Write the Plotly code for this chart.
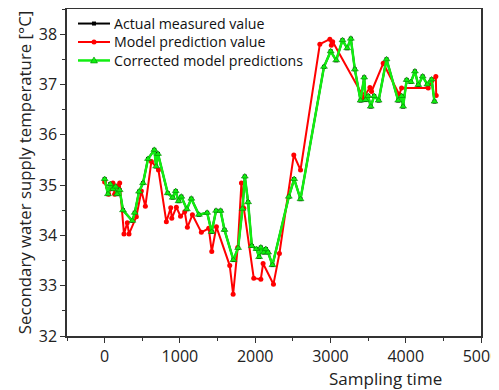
import plotly.graph_objects as go

# Corrected model predictions (overlaps actual measured values)
t_corr = [0, 44, 75, 110, 146, 164, 200, 244, 368, 400, 457, 510, 576, 660, 684, 709,
          838, 904, 944, 982, 1019, 1092, 1152, 1252, 1362, 1422, 1480, 1540, 1592, 1711,
          1773, 1831, 1862, 1906, 1955, 2017, 2052, 2075, 2114, 2141, 2172, 2230, 2447,
          2518, 2602, 2914, 3003, 3076, 3160, 3222, 3271, 3324, 3400, 3448, 3467, 3501,
          3535, 3581, 3640, 3745, 3900, 3945, 3965, 4012, 4069, 4122, 4167, 4225, 4287,
          4344, 4382]
v_corr = [35.12, 34.82, 35.02, 34.92, 34.97, 34.82, 34.90, 34.50, 34.29, 34.45, 34.87,
          35.04, 35.52, 35.70, 35.37, 35.62, 34.84, 34.75, 34.88, 34.68, 34.77, 34.52,
          34.73, 34.41, 34.45, 34.07, 34.49, 34.49, 34.11, 33.51, 33.75, 34.53, 35.17,
          34.66, 33.79, 33.73, 33.57, 33.76, 33.66, 33.73, 33.66, 33.41, 34.77, 35.12,
          34.72, 37.35, 37.66, 37.48, 37.88, 37.72, 37.91, 37.30, 36.68, 37.14, 36.69,
          36.77, 36.56, 36.77, 36.68, 37.50, 36.68, 36.77, 36.56, 37.09, 37.05, 37.26,
          36.99, 37.16, 37.00, 37.10, 36.66]

# Actual measured values (visually identical to corrected series)
t_actual = list(t_corr)
v_actual = list(v_corr)

# Model prediction values
t_model = [0, 53, 110, 133, 165, 200, 257, 301, 324, 421, 488, 541, 621, 715, 820, 878,
           892, 953, 1008, 1064, 1099, 1166, 1285, 1383, 1423, 1485, 1662, 1707, 1768,
           1817, 1849, 1981, 2075, 2105, 2243, 2322, 2513, 2602, 2859, 2992, 3012, 3030,
           3413, 3440, 3524, 3546, 3701, 3914, 3945, 4299, 4344, 4400, 4405]
v_model = [35.06, 34.82, 35.04, 34.82, 34.98, 35.04, 34.03, 34.25, 34.03, 34.37, 34.88,
           34.58, 35.47, 35.30, 34.27, 34.55, 34.34, 34.56, 34.38, 34.47, 34.16, 34.41,
           34.06, 34.14, 33.68, 34.17, 33.40, 32.83, 33.76, 35.04, 34.54, 33.15, 33.13,
           33.44, 33.03, 33.64, 35.60, 35.30, 37.80, 37.90, 37.78, 37.85, 36.82, 36.74,
           36.94, 36.86, 37.42, 36.80, 36.93, 36.93, 37.07, 37.16, 36.78]

x_ticks = [0, 1000, 2000, 3000, 4000, 5000]
y_ticks = [32, 33, 34, 35, 36, 37, 38]

series_names = ["Actual measured value", "Model prediction value",
                "Corrected model predictions"]

FONT = "Open Sans"
GREEN = "#11ee11"
colors = ["#000000", "#ff0000", GREEN]

fig = go.Figure()
fig.add_trace(go.Scatter(x=t_actual, y=v_actual, mode="lines+markers",
                         name=series_names[0],
                         line=dict(color="black", width=2),
                         marker=dict(symbol="square", size=4, color="black")))
fig.add_trace(go.Scatter(x=t_model, y=v_model, mode="lines+markers",
                         name=series_names[1],
                         line=dict(color="#ff0000", width=2),
                         marker=dict(symbol="circle", size=5, color="#ff0000")))
fig.add_trace(go.Scatter(x=t_corr, y=v_corr, mode="lines+markers",
                         name=series_names[2],
                         line=dict(color=GREEN, width=2.5),
                         marker=dict(symbol="triangle-up", size=6, color=GREEN,
                                     line=dict(color="#008800", width=0.6))))

axis_common = dict(showgrid=False, zeroline=False, showline=True, linecolor="#333333",
                   linewidth=1.5, mirror=True, ticks="outside", ticklen=5,
                   tickwidth=1.2, tickcolor="#333333", automargin=False,
                   ticklabeloverflow="allow",
                   tickfont=dict(family=FONT, size=16, color="#222222"))

fig.update_xaxes(range=[-500, 5000], tickvals=x_ticks,
                 minor=dict(dtick=500, tick0=0, ticks="outside", ticklen=3,
                            tickwidth=1, tickcolor="#333333"),
                 **axis_common)
fig.update_yaxes(range=[32, 38.5], tickvals=y_ticks,
                 minor=dict(dtick=0.5, tick0=32, ticks="outside", ticklen=3,
                            tickwidth=1, tickcolor="#333333"),
                 title=dict(text="Secondary water supply temperature [°C]",
                            font=dict(family=FONT, size=16.8, color="#222222"),
                            standoff=3),
                 **axis_common)

fig.add_annotation(text="Sampling time", xref="paper", yref="paper",
                   x=1.0 - (481 - 444) / 414, y=-0.09, xanchor="right", yanchor="top",
                   showarrow=False, font=dict(family=FONT, size=17, color="#222222"))

# Manual legend (compact row spacing like the reference)
PW, PH = 414.0, 327.0
LEG_FONT = 14.2
row_gap = LEG_FONT * 1.3
row_y = [34 - row_gap, 34, 34 + row_gap]   # figure-pixel y of each legend row
line_x0, line_x1, text_x = 70, 102, 105
mx = (line_x0 + line_x1) / 2
xa = (mx - 59) / PW
for i, name in enumerate(series_names):
    yp = (328 - row_y[i]) / PH
    fig.add_shape(type="line", xref="paper", yref="paper",
                  x0=(line_x0 - 59) / PW, x1=(line_x1 - 59) / PW, y0=yp, y1=yp,
                  line=dict(color=colors[i], width=2.5 if i == 2 else 2))
    if i == 0:
        fig.add_shape(type="rect", xref="paper", yref="paper", xsizemode="pixel",
                      ysizemode="pixel", xanchor=xa, yanchor=yp, x0=-2, x1=2, y0=-2, y1=2,
                      fillcolor="black", line=dict(width=0))
    elif i == 1:
        fig.add_shape(type="circle", xref="paper", yref="paper", xsizemode="pixel",
                      ysizemode="pixel", xanchor=xa, yanchor=yp, x0=-2.5, x1=2.5,
                      y0=-2.5, y1=2.5, fillcolor="#ff0000", line=dict(width=0))
    else:
        fig.add_shape(type="path", xref="paper", yref="paper", xsizemode="pixel",
                      ysizemode="pixel", xanchor=xa, yanchor=yp,
                      path="M -3.5 -2.5 L 3.5 -2.5 L 0 3.5 Z",
                      fillcolor=GREEN, line=dict(color="#008800", width=0.6))

fig.add_annotation(text="<br>".join(series_names), xref="paper", yref="paper",
                   x=(text_x - 59) / PW, y=(328 - row_y[1]) / PH,
                   xanchor="left", yanchor="middle", align="left",
                   showarrow=False, borderpad=0,
                   font=dict(family=FONT, size=LEG_FONT, color="#111111"))

# The page body has an 8px margin, so the figure is offset by 8px; compensate.
fig.update_layout(
    width=491, height=382,
    margin=dict(l=59, r=18, t=1, b=54),
    paper_bgcolor="white", plot_bgcolor="white",
    showlegend=False,
)

fig.write_html("out.html")
